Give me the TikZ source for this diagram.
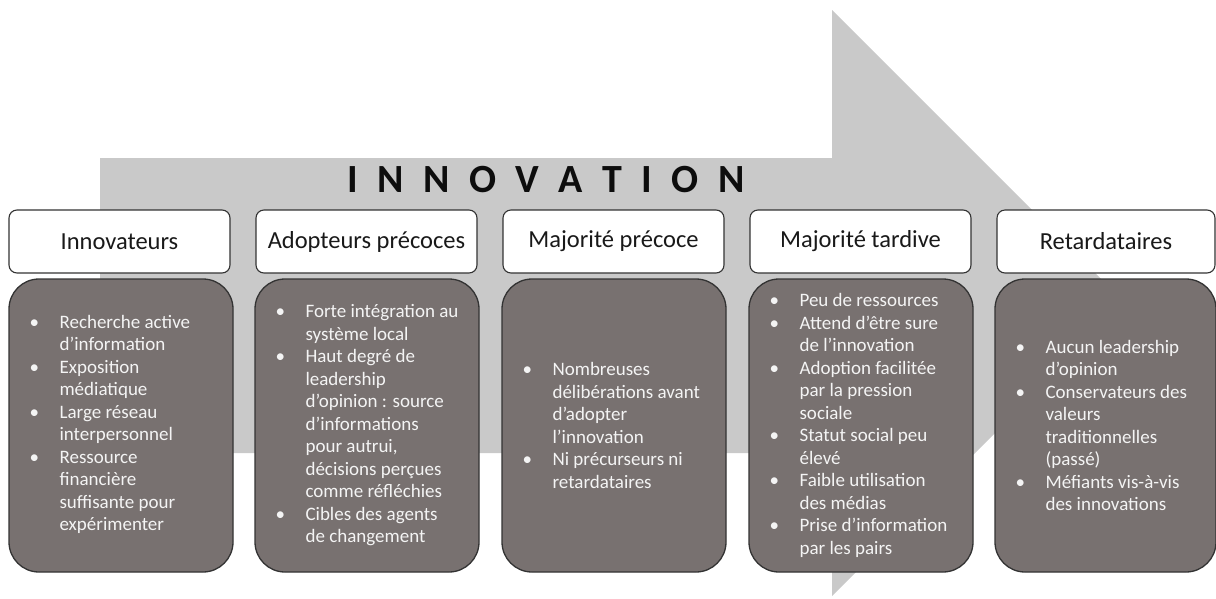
\documentclass[tikz,border=0pt]{standalone}
\usepackage{fontspec}
\setmainfont{Carlito}
\definecolor{arrowgray}{HTML}{C9C9C9}
\definecolor{cardfill}{HTML}{787170}
\definecolor{cardtextc}{HTML}{F4F4F4}
\newcommand\lgap{\hspace{19.5pt}}
\newcommand\bl{\makebox[30pt][l]{\textbullet}}
\newcommand\ct{\hspace*{30pt}}
\begin{document}
\begin{tikzpicture}[x=1pt,y=-1pt,
  hdr/.style={draw=black!80, line width=1.1pt, fill=white, rounded corners=8pt,
    minimum width=221pt, minimum height=63pt, inner sep=0pt,
    font=\fontsize{24.5}{28}\selectfont, text=black!90},
  card/.style={draw=black!80, line width=1.3pt, fill=cardfill, rounded corners=30pt,
    minimum width=224pt, minimum height=293pt, inner sep=0pt},
  cardtext/.style={anchor=west, align=left, inner sep=0pt, text=cardtextc,
    font=\fontsize{19}{22.5}\selectfont},
]
\useasboundingbox (0,0) rectangle (1216,598);
% big arrow
\fill[arrowgray] (100,158) -- (832,158) -- (832,10) -- (1125,303) -- (832,596)
  -- (832,453) -- (100,453) -- cycle;
% title
\node[inner sep=0pt, font=\fontsize{40}{44}\selectfont\bfseries, text=black!95] (title) at (546,180)
  {I\lgap N\lgap N\lgap O\lgap V\lgap A\lgap T\lgap I\lgap O\lgap N};
% headers
\node[hdr] (h1) at (119.5,241.5) {Innovateurs};
\node[hdr] (h2) at (366.5,241.5) {Adopteurs précoces};
\node[hdr] (h3) at (613.5,241.5) {Majorité précoce};
\node[hdr] (h4) at (860.5,241.5) {Majorité tardive};
\node[hdr, minimum width=218pt] (h5) at (1106,241.5) {Retardataires};
% cards
\node[card] (c1) at (121,425.5) {};
\node[card] (c2) at (367,425.5) {};
\node[card] (c3) at (614,425.5) {};
\node[card] (c4) at (861,425.5) {};
\node[card, minimum width=221pt] (c5) at (1105.5,425.5) {};
% card texts
\node[cardtext] (t1) at ([xshift=21pt,yshift=1pt]c1.west) {%
\bl Recherche active\\ \ct d’information\\
\bl Exposition\\ \ct médiatique\\
\bl Large réseau\\ \ct interpersonnel\\
\bl Ressource\\ \ct financière\\ \ct suffisante pour\\ \ct expérimenter};
\node[cardtext] (t2) at ([xshift=21pt]c2.west) {%
\bl Forte intégration au\\ \ct système local\\
\bl Haut degré de\\ \ct leadership\\ \ct d’opinion : source\\ \ct d’informations\\ \ct pour autrui,\\ \ct décisions perçues\\ \ct comme réfléchies\\
\bl Cibles des agents\\ \ct de changement};
\node[cardtext] (t3) at ([xshift=21pt]c3.west) {%
\bl Nombreuses\\ \ct délibérations avant\\ \ct d’adopter\\ \ct l’innovation\\
\bl Ni précurseurs ni\\ \ct retardataires};
\node[cardtext] (t4) at ([xshift=21pt]c4.west) {%
\bl Peu de ressources\\
\bl Attend d’être sure\\ \ct de l’innovation\\
\bl Adoption facilitée\\ \ct par la pression\\ \ct sociale\\
\bl Statut social peu\\ \ct élevé\\
\bl Faible utilisation\\ \ct des médias\\
\bl Prise d’information\\ \ct par les pairs};
\node[cardtext] (t5) at ([xshift=21pt]c5.west) {%
\bl Aucun leadership\\ \ct d’opinion\\
\bl Conservateurs des\\ \ct valeurs\\ \ct traditionnelles\\ \ct (passé)\\
\bl Méfiants vis-à-vis\\ \ct des innovations};
\end{tikzpicture}
\end{document}
